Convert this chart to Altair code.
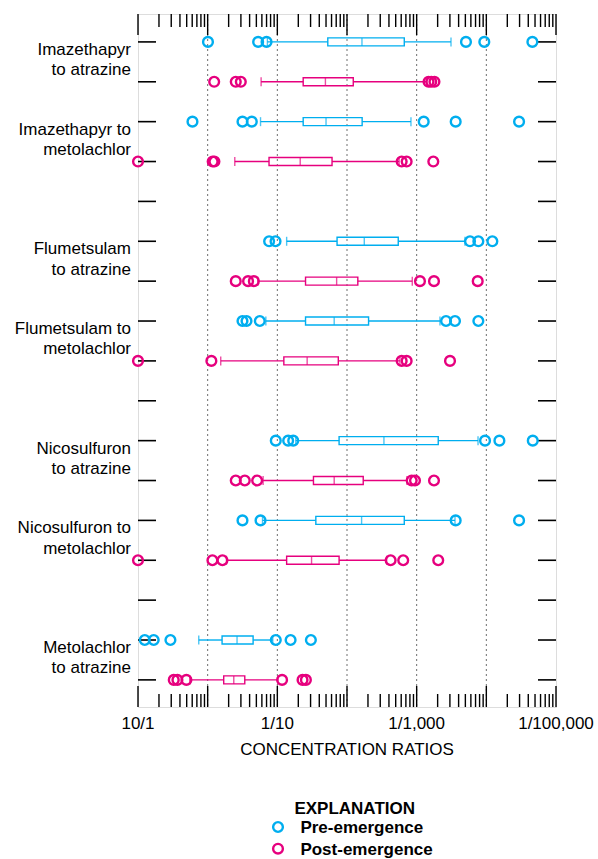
import altair as alt
import pandas as pd

# ---------------------------------------------------------------------------
# Data: concentration ratios are written as 1/N, the arrays hold N.
# ---------------------------------------------------------------------------
TIMING_LEVELS = ["Pre-emergence", "Post-emergence"]
TIMING_COLORS = ["#00AEEF", "#E6007E"]

# Row slots on the y axis (slots 5, 10 and 15 are left blank between pairs)
ROW = [1, 2, 3, 4, 6, 7, 8, 9, 11, 12, 13, 14, 16, 17]
TIMING = TIMING_LEVELS * 7

WHISKER_LO = [7.2, 5.85, 5.74, 2.45, 13.6, 5.25, 6.84, 1.54, 18.4, 6.25, 6.13, 1.86, 0.745, 0.553]
Q1 = [53, 23.5, 23.5, 7.6, 72, 25.4, 25.4, 12.4, 77, 33, 35.7, 13.6, 1.61, 1.70]
MEDIAN = [164, 49, 50, 21.3, 177, 71, 65.5, 26.8, 339, 65.5, 162, 31, 2.64, 2.37]
Q3 = [664, 123, 165, 61, 544, 143, 204, 75, 2040, 171, 664, 77, 4.49, 3.41]
WHISKER_HI = [3110, 1400, 828, 560, 4940, 865, 2160, 575, 7600, 726, 3550, 371, 8.6, 10.2]
OUTLIERS = [
    [1.01, 5.3, 7.0, 5100, 9350, 45800],
    [1.24, 2.53, 2.99, 1480, 1620, 1800],
    [0.605, 3.16, 4.3, 1262, 3630, 29500],
    [0.1, 1.18, 1.25, 609, 718, 1733],
    [7.62, 9.42, 5830, 7680, 12200],
    [2.53, 3.8, 4.6, 1115, 1773, 7520],
    [3.16, 3.61, 5.6, 2640, 3550, 7680],
    [0.1, 1.13, 609, 718, 3010],
    [9.5, 14.3, 16.9, 9580, 15400, 46400],
    [2.53, 3.41, 5.13, 848, 946, 1773],
    [3.16, 5.74, 3630, 29500],
    [0.1, 1.17, 1.63, 423, 641, 2040],
    [0.125, 0.168, 0.292, 9.5, 15.5, 30.3],
    [0.326, 0.368, 0.495, 11.7, 23, 25.7],
]

PAIR_LABELS = [
    "Imazethapyr\nto atrazine",
    "Imazethapyr to\nmetolachlor",
    "Flumetsulam\nto atrazine",
    "Flumetsulam to\nmetolachlor",
    "Nicosulfuron\nto atrazine",
    "Nicosulfuron to\nmetolachlor",
    "Metolachlor\nto atrazine",
]
PAIR_POS = [1.5, 3.5, 6.5, 8.5, 11.5, 13.5, 16.5]

ROW_SLOTS = list(range(1, 18))
AXIS_LABEL_VALUES = [0.1, 10, 1000, 100000]
DECADES = [0.1, 1, 10, 100, 1000, 10000, 100000]
GRID_VALUES = [1, 10, 100, 1000, 10000]
MINOR_TICKS = [k * d for d in DECADES[:-1] for k in range(2, 10)]
X_TITLE = "CONCENTRATION RATIOS"

FONT = "Liberation Sans"
W, H = 418, 693

box_df = pd.DataFrame({
    "row": ROW, "timing": TIMING, "lo": WHISKER_LO, "q1": Q1,
    "med": MEDIAN, "q3": Q3, "hi": WHISKER_HI,
})
out_df = pd.DataFrame(
    [{"row": r, "timing": t, "n": v} for r, t, vals in zip(ROW, TIMING, OUTLIERS) for v in vals]
)

xs = alt.Scale(type="log", domain=[0.1, 100000], nice=False, padding=0)
ys = alt.Scale(domain=[0.3, 17.68], reverse=True, nice=False, zero=False, padding=0)
cs = alt.Scale(domain=TIMING_LEVELS, range=TIMING_COLORS)
color = alt.Color("timing:N", scale=cs, legend=None)
y_row = alt.Y("row:Q", scale=ys, axis=None)


def x_enc(field):
    return alt.X(f"{field}:Q", scale=xs, axis=None)


# ---------------------------------------------------------------------------
# Frame furniture: grid, inward ticks, axis labels
# ---------------------------------------------------------------------------
grid = alt.Chart(pd.DataFrame({"n": GRID_VALUES})).mark_rule(
    color="#6e6e6e", strokeDash=[2, 3], strokeWidth=1
).encode(x=x_enc("n"), y=alt.value(0), y2=alt.value(H))

tick_style = dict(color="black", strokeWidth=1.4)
major_bottom = alt.Chart(pd.DataFrame({"n": DECADES})).mark_rule(**tick_style).encode(
    x=x_enc("n"), y=alt.value(H), y2=alt.value(H - 21))
major_top = alt.Chart(pd.DataFrame({"n": DECADES})).mark_rule(**tick_style).encode(
    x=x_enc("n"), y=alt.value(0), y2=alt.value(21))
minor_bottom = alt.Chart(pd.DataFrame({"n": MINOR_TICKS})).mark_rule(**tick_style).encode(
    x=x_enc("n"), y=alt.value(H), y2=alt.value(H - 13))
minor_top = alt.Chart(pd.DataFrame({"n": MINOR_TICKS})).mark_rule(**tick_style).encode(
    x=x_enc("n"), y=alt.value(0), y2=alt.value(13))

slots = pd.DataFrame({"row": ROW_SLOTS})
y_ticks_left = alt.Chart(slots).mark_rule(color="black", strokeWidth=1.6).encode(
    y=y_row, x=alt.value(0), x2=alt.value(18))
y_ticks_right = alt.Chart(slots).mark_rule(color="black", strokeWidth=1.6).encode(
    y=y_row, x=alt.value(W), x2=alt.value(W - 18))

# Tick labels written as ratios: 10/1, 1/10, 1/1,000, 1/100,000
x_labels = alt.Chart(pd.DataFrame({"n": AXIS_LABEL_VALUES})).transform_calculate(
    lab="datum.n < 1 ? format(1 / datum.n, 'd') + '/1' : '1/' + format(datum.n, ',d')"
).mark_text(align="center", baseline="alphabetic", font=FONT, fontSize=17, color="black").encode(
    x=x_enc("n"), y=alt.value(H + 22.3), text="lab:N")

x_title = alt.Chart(alt.Data(values=[{"t": X_TITLE}])).mark_text(
    align="center", baseline="alphabetic", font=FONT, fontSize=17, color="black"
).encode(x=alt.value(W / 2), y=alt.value(H + 48), text="t:N")

# ---------------------------------------------------------------------------
# Box plots
# ---------------------------------------------------------------------------
base = alt.Chart(box_df)
whisk_lo = base.mark_rule(strokeWidth=1.4).encode(
    x=x_enc("lo"), x2="q1:Q", y=y_row, color=color)
whisk_hi = base.mark_rule(strokeWidth=1.4).encode(
    x=x_enc("q3"), x2="hi:Q", y=y_row, color=color)
cap_lo = base.mark_tick(orient="vertical", size=9, thickness=1.4).encode(
    x=x_enc("lo"), y=y_row, color=color)
cap_hi = base.mark_tick(orient="vertical", size=9, thickness=1.4).encode(
    x=x_enc("hi"), y=y_row, color=color)
boxes = base.mark_bar(
    size=8, fill="white", fillOpacity=0, strokeWidth=1.4, orient="horizontal"
).encode(x=x_enc("q1"), x2="q3:Q", y=y_row, stroke=color)
medians = base.mark_tick(orient="vertical", size=8, thickness=1.4).encode(
    x=x_enc("med"), y=y_row, color=color)
outliers = alt.Chart(out_df).mark_point(
    shape="circle", filled=False, size=95, strokeWidth=2.4, opacity=1
).encode(x=x_enc("n"), y=y_row, color=color)

# ---------------------------------------------------------------------------
# Pair labels on the left
# ---------------------------------------------------------------------------
pair_labels = alt.Chart(pd.DataFrame({"label": PAIR_LABELS, "row": PAIR_POS})).mark_text(
    align="right", baseline="alphabetic", font=FONT, fontSize=17, lineBreak="\n",
    lineHeight=20.5, dy=-7, color="black"
).encode(y=y_row, x=alt.value(-7), text="label:N")

# ---------------------------------------------------------------------------
# Explanation (legend)
# ---------------------------------------------------------------------------
legend_title = alt.Chart(alt.Data(values=[{"t": "EXPLANATION"}])).mark_text(
    align="center", baseline="alphabetic", font=FONT, fontSize=17, fontWeight="bold",
    color="black"
).encode(x=alt.value(216.7), y=alt.value(800.3), text="t:N")

legend_layers = []
for i, (lab, col) in enumerate(zip(TIMING_LEVELS, TIMING_COLORS)):
    ypx = 813.0 + i * 21.7
    d = alt.Data(values=[{"label": lab}])
    legend_layers.append(
        alt.Chart(d).mark_point(shape="circle", filled=False, size=95, strokeWidth=2.4,
                                color=col, opacity=1)
        .encode(x=alt.value(140), y=alt.value(ypx))
    )
    legend_layers.append(
        alt.Chart(d).mark_text(align="left", baseline="alphabetic", font=FONT, fontSize=17,
                               fontWeight="bold", color="black")
        .encode(x=alt.value(162.4), y=alt.value(ypx + 6.3), text="label:N")
    )

chart = alt.layer(
    grid, major_bottom, major_top, minor_bottom, minor_top, y_ticks_left, y_ticks_right,
    whisk_lo, whisk_hi, boxes, medians, cap_lo, cap_hi, outliers, pair_labels,
    x_labels, x_title, legend_title, *legend_layers,
).properties(
    width=W, height=H,
    autosize=alt.AutoSizeParams(type="none"),
    padding={"left": 138, "top": 14, "right": 42, "bottom": 152},
).configure_view(stroke="black", strokeWidth=1.5).configure(background="white")

chart.save("out.html", embed_options={"renderer": "svg", "actions": False})
